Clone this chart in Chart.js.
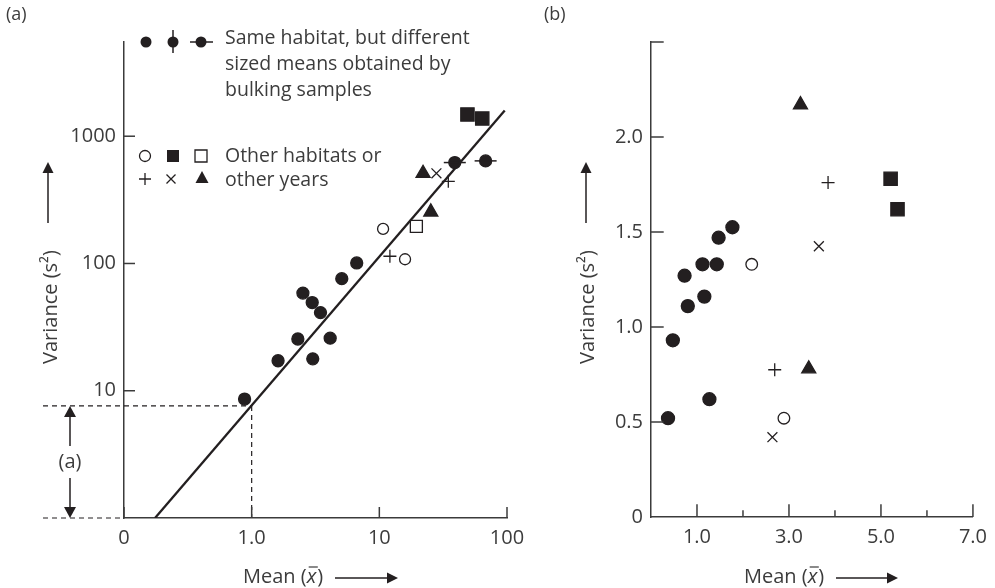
<!DOCTYPE html>
<html lang="en">
<head>
  <meta charset="UTF-8">
  <title>Variance against mean</title>
  <script src="https://cdn.jsdelivr.net/npm/chart.js@4.4.1/dist/chart.umd.min.js"></script>
  <style>
    body { margin: 0; background: #fff; }
    #wrap { position: relative; width: 995px; height: 588px; }
    #chartA { position: absolute; left: 0; top: 0; }
    #chartB { position: absolute; left: 540px; top: 0; }
  </style>
</head>
<body>
<div id="wrap">
  <canvas id="chartA" width="540" height="588"></canvas>
  <canvas id="chartB" width="455" height="588"></canvas>
</div>

<script>
// ---- panel (a): log variance vs log mean, [mean, variance] ----
const aSame      = [[0.88, 8.6], [1.61, 17.2], [2.30, 25.5], [2.52, 58.5], [2.98, 49.3],
                    [3.01, 17.8], [3.46, 41.1], [4.12, 25.9], [5.08, 76], [6.65, 101]];
const aBulked    = [[39, 621], [68, 640]];
const aOpenCirc  = [[10.7, 187], [15.9, 108]];
const aFillSq    = [[49, 1482], [64, 1378]];
const aOpenSq    = [[19.5, 196]];
const aPlus      = [[12.1, 114], [34.7, 442]];
const aCross     = [[28, 511]];
const aTriangle  = [[22, 511], [25.3, 254]];
const aFitLine   = [[0.175, 1], [96, 1590]];
const aIntercept = 7.6;   // variance where mean = 1
const aXTicks    = [0.1, 1, 10, 100];
const aXLabels   = ['0', '1.0', '10', '100'];
const aYTicks    = [1, 10, 100, 1000];
const aYLabels   = ['', '10', '100', '1000'];

// ---- panel (b): variance vs mean on linear axes ----
const bSame      = [[0.37, 0.52], [0.475, 0.93], [0.73, 1.27], [0.80, 1.11], [1.12, 1.33],
                    [1.16, 1.16], [1.27, 0.62], [1.43, 1.33], [1.47, 1.47], [1.77, 1.525]];
const bOpenCirc  = [[2.19, 1.33], [2.89, 0.52]];
const bFillSq    = [[5.21, 1.78], [5.36, 1.62]];
const bPlus      = [[2.69, 0.775], [3.85, 1.76]];
const bCross     = [[2.64, 0.42], [3.65, 1.425]];
const bTriangle  = [[3.25, 2.17], [3.43, 0.78]];
const bXTicks    = [0, 1, 2, 3, 4, 5, 6, 7];
const bXLabels   = ['', '1.0', '', '3.0', '', '5.0', '', '7.0'];
const bYTicks    = [0, 0.5, 1, 1.5, 2, 2.5];
const bYLabels   = ['0', '0.5', '1.0', '1.5', '2.0', ''];

const INK = '#231f20';
const AXIS = '#3b3b3b';
const TEXT = '#3c3c3c';
const FAMILY = '"Open Sans", sans-serif';
const FONT = '20px ' + FAMILY;
const KEY_FONT = '19.5px ' + FAMILY;

const toXY = arr => arr.map(([x, y]) => ({ x, y }));

function marks(data, style, radius, extra) {
  return Object.assign({
    data: toXY(data),
    pointStyle: style,
    pointRadius: radius,
    pointBackgroundColor: INK,
    pointBorderColor: INK,
    pointBorderWidth: 1.3
  }, extra || {});
}
const hollow = { pointBackgroundColor: '#fff' };

// ---- small drawing helpers ----
function line(ctx, x1, y1, x2, y2, w) {
  ctx.lineWidth = w;
  ctx.beginPath(); ctx.moveTo(x1, y1); ctx.lineTo(x2, y2); ctx.stroke();
}
function head(ctx, x, y, dir, len, half) {
  ctx.beginPath();
  ctx.moveTo(x, y);
  if (dir === 'up')    { ctx.lineTo(x - half, y + len); ctx.lineTo(x + half, y + len); }
  if (dir === 'down')  { ctx.lineTo(x - half, y - len); ctx.lineTo(x + half, y - len); }
  if (dir === 'right') { ctx.lineTo(x - len, y - half); ctx.lineTo(x - len, y + half); }
  ctx.closePath(); ctx.fill();
}
function varianceTitle(ctx, cx, arrowX) {
  // upward arrow, then rotated title below it
  ctx.strokeStyle = INK; ctx.fillStyle = INK;
  line(ctx, arrowX, 223, arrowX, 170, 1.5);
  head(ctx, arrowX, 162, 'up', 11, 5.5);
  ctx.save();
  ctx.translate(cx, 307);
  ctx.rotate(-Math.PI / 2);
  ctx.fillStyle = TEXT; ctx.font = FONT;
  ctx.textAlign = 'center'; ctx.textBaseline = 'middle';
  ctx.fillText('Variance (s\u00B2)', 0, 0);
  ctx.restore();
}
function meanTitle(ctx, x, base, arrowFrom, arrowTo) {
  ctx.fillStyle = TEXT; ctx.strokeStyle = TEXT;
  ctx.textAlign = 'left'; ctx.textBaseline = 'alphabetic';
  ctx.font = FONT;
  const first = 'Mean (';
  ctx.fillText(first, x, base);
  let cx = x + ctx.measureText(first).width;
  ctx.font = 'italic ' + FONT;
  ctx.fillText('x', cx, base);
  const w = ctx.measureText('x').width;
  line(ctx, cx + 2, base - 16, cx + w + 1.5, base - 16, 1.2);
  cx += w + 1;
  ctx.font = FONT;
  ctx.fillText(')', cx, base);
  ctx.fillStyle = INK; ctx.strokeStyle = INK;
  line(ctx, arrowFrom, base - 5, arrowTo - 8, base - 5, 1.5);
  head(ctx, arrowTo, base - 5, 'right', 11, 5.5);
}
function tickMarks(ctx, chart, xTicks, yTicks) {
  const ca = chart.chartArea, xs = chart.scales.x, ys = chart.scales.y;
  ctx.strokeStyle = AXIS;
  xTicks.forEach(([v, len]) => {
    const px = xs.getPixelForValue(v);
    line(ctx, px, ca.bottom, px, ca.bottom - len, 1.5);
  });
  yTicks.forEach(([v, len]) => {
    const py = ys.getPixelForValue(v);
    line(ctx, ca.left, py, ca.left + len, py, 1.5);
  });
}
function legendMark(ctx, kind, x, y) {
  ctx.fillStyle = INK; ctx.strokeStyle = INK; ctx.lineWidth = 1.3;
  ctx.beginPath();
  if (kind === 'dot' || kind === 'ring') ctx.arc(x, y, 5.5, 0, Math.PI * 2);
  if (kind === 'box' || kind === 'openBox') ctx.rect(x - 6, y - 6, 12, 12);
  if (kind === 'tri') { ctx.moveTo(x, y - 7); ctx.lineTo(x + 6.5, y + 5); ctx.lineTo(x - 6.5, y + 5); ctx.closePath(); }
  if (kind === 'ring' || kind === 'openBox') { ctx.fillStyle = '#fff'; ctx.fill(); ctx.stroke(); }
  else if (kind === 'plus') { ctx.moveTo(x - 6, y); ctx.lineTo(x + 6, y); ctx.moveTo(x, y - 6); ctx.lineTo(x, y + 6); ctx.stroke(); }
  else if (kind === 'cross') { ctx.moveTo(x - 4.5, y - 4.5); ctx.lineTo(x + 4.5, y + 4.5); ctx.moveTo(x + 4.5, y - 4.5); ctx.lineTo(x - 4.5, y + 4.5); ctx.stroke(); }
  else ctx.fill();
}

function axisOptions(type, min, max, ticks, labels, fitKey, fitSize) {
  return {
    type: type, min: min, max: max, bounds: 'data',
    grid: { display: false, drawTicks: false },
    border: { display: true, color: AXIS, width: 1.5 },
    afterBuildTicks: s => { s.ticks = ticks.map(v => ({ value: v })); },
    afterFit: s => { s[fitKey] = fitSize; },
    ticks: {
      autoSkip: false, maxRotation: 0, color: TEXT,
      font: { family: FAMILY, size: 20 },
      padding: 8,
      callback: (v, i) => labels[i]
    }
  };
}

const common = {
  responsive: false,
  animation: false,
  events: [],
  plugins: { legend: { display: false }, tooltip: { enabled: false } }
};

// ---------- chart (a) ----------
new Chart(document.getElementById('chartA'), {
  type: 'scatter',
  data: {
    datasets: [
      { data: toXY(aFitLine), showLine: true, borderColor: INK, borderWidth: 2.3, pointRadius: 0 },
      marks(aSame, 'circle', 6),
      marks(aBulked, 'line', 11, { pointBorderWidth: 1.5 }),
      marks(aBulked, 'circle', 6),
      marks(aOpenCirc, 'circle', 5.5, hollow),
      marks(aFillSq, 'rect', 9.4),
      marks(aOpenSq, 'rect', 8.5, hollow),
      marks(aPlus, 'cross', 6.5),
      marks(aCross, 'crossRot', 7),
      marks(aTriangle, 'triangle', 8.1)
    ]
  },
  options: Object.assign({}, common, {
    layout: { padding: { top: 42, right: 33, left: 0, bottom: 0 } },
    scales: {
      x: axisOptions('logarithmic', 0.1, 100, aXTicks, aXLabels, 'height', 70),
      y: axisOptions('logarithmic', 1, 5500, aYTicks, aYLabels, 'width', 124)
    }
  }),
  plugins: [{
    id: 'panelA',
    beforeDatasetsDraw(chart) {
      const ctx = chart.ctx, ca = chart.chartArea;
      const xs = chart.scales.x, ys = chart.scales.y;
      const yA = ys.getPixelForValue(aIntercept);
      const x1 = xs.getPixelForValue(1);
      ctx.save();
      ctx.strokeStyle = INK;
      ctx.setLineDash([5, 4]);
      line(ctx, ca.left - 81, yA, x1, yA, 1.2);
      line(ctx, x1, yA, x1, ca.bottom, 1.2);
      line(ctx, ca.left - 81, ca.bottom, ca.left, ca.bottom, 1.2);
      ctx.restore();
    },
    afterDraw(chart) {
      const ctx = chart.ctx, ca = chart.chartArea;
      const ys = chart.scales.y;
      ctx.save();
      tickMarks(ctx, chart,
        [[0.1, 11], [1, 11], [10, 11], [100, 11]],
        [[10, 11], [100, 11], [1000, 11]]);

      // intercept bracket labelled (a)
      const yA = ys.getPixelForValue(aIntercept);
      const ax = ca.left - 54, mid = (yA + ca.bottom) / 2;
      ctx.strokeStyle = INK; ctx.fillStyle = INK;
      line(ctx, ax, yA + 8, ax, mid - 16, 1.5);
      line(ctx, ax, mid + 16, ax, ca.bottom - 8, 1.5);
      head(ctx, ax, yA, 'up', 11, 6);
      head(ctx, ax, ca.bottom, 'down', 11, 6);
      ctx.fillStyle = TEXT; ctx.font = FONT;
      ctx.textAlign = 'center'; ctx.textBaseline = 'middle';
      ctx.fillText('(a)', ax, mid);

      varianceTitle(ctx, 51, 48);
      meanTitle(ctx, 243, 583, 335, 398);

      // key
      legendMark(ctx, 'dot', 146, 42);
      ctx.strokeStyle = INK; line(ctx, 173, 30, 173, 53, 1.5);
      legendMark(ctx, 'dot', 173, 42);
      ctx.strokeStyle = INK; line(ctx, 190, 42, 213, 42, 1.5);
      legendMark(ctx, 'dot', 201, 42);
      legendMark(ctx, 'ring', 145, 156);
      legendMark(ctx, 'box', 173, 156);
      legendMark(ctx, 'openBox', 201, 156);
      legendMark(ctx, 'plus', 145, 179);
      legendMark(ctx, 'cross', 171, 179);
      legendMark(ctx, 'tri', 202, 178);

      ctx.fillStyle = TEXT; ctx.font = KEY_FONT;
      ctx.textAlign = 'left'; ctx.textBaseline = 'alphabetic';
      ctx.fillText('Same habitat, but different', 225, 44);
      ctx.fillText('sized means obtained by', 225, 70);
      ctx.fillText('bulking samples', 225, 96);
      ctx.fillText('Other habitats or', 225, 162);
      ctx.fillText('other years', 225, 186);

      ctx.font = '18px ' + FAMILY; ctx.textBaseline = 'middle';
      ctx.fillText('(a)', 6, 15);
      ctx.restore();
    }
  }]
});

// ---------- chart (b) ----------
new Chart(document.getElementById('chartB'), {
  type: 'scatter',
  data: {
    datasets: [
      marks(bSame, 'circle', 6.5),
      marks(bOpenCirc, 'circle', 5.8, hollow),
      marks(bFillSq, 'rect', 9.4),
      marks(bPlus, 'cross', 6.5),
      marks(bCross, 'crossRot', 7),
      marks(bTriangle, 'triangle', 8.1)
    ]
  },
  options: Object.assign({}, common, {
    layout: { padding: { top: 42, right: 18, left: 0, bottom: 0 } },
    scales: {
      x: axisOptions('linear', 0, 7, bXTicks, bXLabels, 'height', 71),
      y: axisOptions('linear', 0, 2.5, bYTicks, bYLabels, 'width', 111)
    }
  }),
  plugins: [{
    id: 'panelB',
    afterDraw(chart) {
      const ctx = chart.ctx;
      ctx.save();
      tickMarks(ctx, chart,
        [[1, 12.7], [2, 6.7], [3, 12.7], [4, 6.7], [5, 12.7], [6, 6.7], [7, 12.7]],
        [[0.5, 12.7], [1, 12.7], [1.5, 12.7], [2, 12.7], [2.5, 12.7]]);
      varianceTitle(ctx, 48, 46);
      meanTitle(ctx, 204, 583, 296, 358);
      ctx.fillStyle = TEXT; ctx.font = '18px ' + FAMILY;
      ctx.textAlign = 'left'; ctx.textBaseline = 'middle';
      ctx.fillText('(b)', 4, 15);
      ctx.restore();
    }
  }]
});
</script>
</body>
</html>
